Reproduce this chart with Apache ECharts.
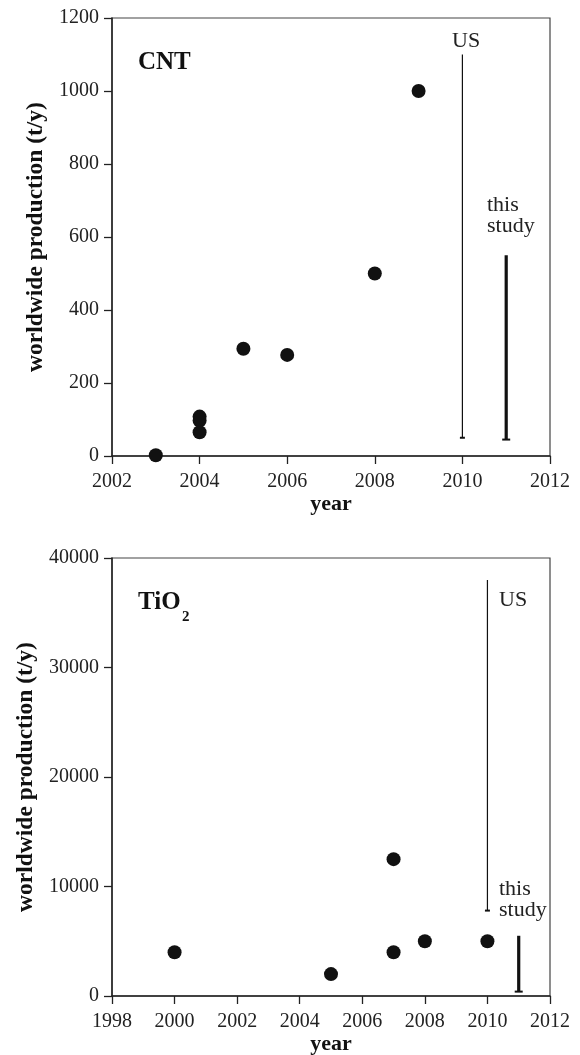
<!DOCTYPE html>
<html>
<head>
<meta charset="utf-8">
<script src="https://cdn.jsdelivr.net/npm/echarts@6/dist/echarts.min.js"></script>
<style>
html,body{margin:0;padding:0;background:#fff;}
#chart{width:580px;height:1055px;}
</style>
</head>
<body>
<div id="chart"></div>
<script>
// ---- Data ----
const cntYears = [2003, 2004, 2004, 2004, 2005, 2006, 2008, 2009];
const cntValues = [2, 108, 97, 65, 294, 277, 500, 1000];
const cntRangeYears = [2010, 2011];          // US, this study
const cntRangeLow = [50, 45];
const cntRangeHigh = [1100, 550];

const tio2Years = [2000, 2005, 2007, 2007, 2008, 2010];
const tio2Values = [4000, 2000, 12500, 4000, 5000, 5000];
const tio2RangeYears = [2010, 2011];         // US, this study
const tio2RangeLow = [7800, 400];
const tio2RangeHigh = [38000, 5500];

const cntYTicks = [0, 1200, 200];      // min, max, interval
const cntXTicks = [2002, 2012, 2];
const tio2YTicks = [0, 40000, 10000];
const tio2XTicks = [1998, 2012, 2];

const yName = 'worldwide production (t/y)';
const xName = 'year';

// ---- Styles ----
const FONT = '"Liberation Serif", "DejaVu Serif", serif';
const INK = '#111';
const rangeLineWidths = [1.2, 3.2];
const rangeCapHalf = [2.5, 4];

const chart = echarts.init(document.getElementById('chart'), null, {renderer: 'canvas'});

function zip(a, b) { return a.map((v, i) => [v, b[i]]); }
function zip3(a, b, c) { return a.map((v, i) => [v, b[i], c[i]]); }

function xAxisCfg(gi, t) {
  return {
    type: 'value', gridIndex: gi, min: t[0], max: t[1], interval: t[2],
    name: xName, nameLocation: 'middle', nameGap: 35,
    nameTextStyle: {fontFamily: FONT, fontSize: 22, fontWeight: 'bold', color: INK},
    axisLine: {show: true, lineStyle: {color: '#222', width: 1.5}},
    axisTick: {show: true, inside: false, length: 8, lineStyle: {color: '#222', width: 1.3}},
    axisLabel: {fontFamily: FONT, fontSize: 20, color: '#222', margin: 16, formatter: v => String(v)},
    splitLine: {show: false}
  };
}
function yAxisCfg(gi, t, gap) {
  return {
    type: 'value', gridIndex: gi, min: t[0], max: t[1], interval: t[2],
    name: yName, nameLocation: 'middle', nameGap: gap,
    nameTextStyle: {fontFamily: FONT, fontSize: 23.5, fontWeight: 'bold', color: INK},
    axisLine: {show: true, lineStyle: {color: '#222', width: 1.5}},
    axisTick: {show: true, inside: false, length: 8, lineStyle: {color: '#222', width: 1.3}},
    axisLabel: {fontFamily: FONT, fontSize: 20, color: '#222', margin: 13, formatter: v => String(v)},
    splitLine: {show: false}
  };
}

function rangeRender(params, api) {
  const x = api.value(0), lo = api.value(1), hi = api.value(2);
  const pT = api.coord([x, hi]);
  const pB = api.coord([x, lo]);
  const i = params.dataIndex;
  const c = rangeCapHalf[i];
  return {
    type: 'group',
    children: [
      {type: 'line', shape: {x1: pT[0], y1: pT[1], x2: pB[0], y2: pB[1]},
       style: {stroke: INK, lineWidth: rangeLineWidths[i]}},
      {type: 'line', shape: {x1: pB[0] - c, y1: pB[1], x2: pB[0] + c, y2: pB[1]},
       style: {stroke: INK, lineWidth: 2}}
    ]
  };
}

const scatterStyle = {color: INK, opacity: 1};

const option = {
  animation: false,
  backgroundColor: '#fff',
  grid: [
    {left: 112, top: 18, width: 438, height: 438, show: true, borderColor: '#444', borderWidth: 1.2,
     backgroundColor: 'transparent', containLabel: false, outerBoundsMode: 'none'},
    {left: 112, top: 558, width: 438, height: 438, show: true, borderColor: '#444', borderWidth: 1.2,
     backgroundColor: 'transparent', containLabel: false, outerBoundsMode: 'none'}
  ],
  xAxis: [xAxisCfg(0, cntXTicks), xAxisCfg(1, tio2XTicks)],
  yAxis: [yAxisCfg(0, cntYTicks, 64), yAxisCfg(1, tio2YTicks, 74)],
  series: [
    {type: 'scatter', xAxisIndex: 0, yAxisIndex: 0, data: zip(cntYears, cntValues),
     symbol: 'circle', symbolSize: 14, itemStyle: scatterStyle, clip: false},
    {type: 'custom', xAxisIndex: 0, yAxisIndex: 0, data: zip3(cntRangeYears, cntRangeLow, cntRangeHigh),
     encode: {x: 0, y: [1, 2]}, renderItem: rangeRender},
    {type: 'scatter', xAxisIndex: 1, yAxisIndex: 1, data: zip(tio2Years, tio2Values),
     symbol: 'circle', symbolSize: 14, itemStyle: scatterStyle, clip: false},
    {type: 'custom', xAxisIndex: 1, yAxisIndex: 1, data: zip3(tio2RangeYears, tio2RangeLow, tio2RangeHigh),
     encode: {x: 0, y: [1, 2]}, renderItem: rangeRender}
  ],
  graphic: [
    {type: 'text', left: 138, top: 50, style: {text: 'CNT', font: 'bold 25px ' + FONT, fill: INK}},
    {type: 'text', left: 452, top: 30, style: {text: 'US', font: '22px ' + FONT, fill: '#222'}},
    {type: 'text', left: 487, top: 194, style: {text: 'this\nstudy', font: '22px ' + FONT, fill: '#222', lineHeight: 21}},
    {type: 'text', left: 138, top: 590, style: {text: 'TiO', font: 'bold 25px ' + FONT, fill: INK}},
    {type: 'text', left: 182, top: 610, style: {text: '2', font: 'bold 15px ' + FONT, fill: INK}},
    {type: 'text', left: 499, top: 589, style: {text: 'US', font: '22px ' + FONT, fill: '#222'}},
    {type: 'text', left: 499, top: 878, style: {text: 'this\nstudy', font: '22px ' + FONT, fill: '#222', lineHeight: 21}}
  ]
};
chart.setOption(option);
</script>
</body>
</html>
